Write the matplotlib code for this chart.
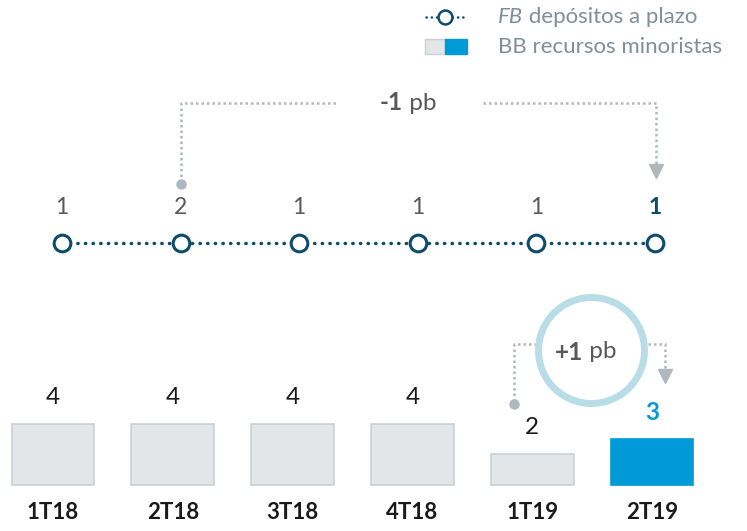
import numpy as np
import matplotlib.pyplot as plt
from matplotlib.patches import Rectangle, Circle

plt.rcParams['font.family'] = ['Lato', 'DejaVu Sans']

quarters = ['1T18', '2T18', '3T18', '4T18', '1T19', '2T19']
fb_plazo = [1, 2, 1, 1, 1, 1]
bb_minoristas = [4, 4, 4, 4, 2, 3]

LINE_C = '#0d4d6b'
GREY_TXT = '#595959'
BAR_C = '#e2e6e9'
BAR_EDGE = '#c9d1d6'
BLUE = '#009ad9'
ANN = '#aeb8bf'
RING = '#b8dde7'
LEG_TXT = '#7f8f99'

W, H = 747, 531
fig = plt.figure(figsize=(W / 100, H / 100), dpi=100)

# bars
axb = fig.add_axes([0, 0, 1, 1])
axb.set_axis_off()
dx_b, x0_b = 119.8, 53
py = 15.3
axb.set_xlim(-x0_b / dx_b, (W - x0_b) / dx_b)
axb.set_ylim(-46 / py, (H - 46) / py)
xb = np.arange(len(quarters))
cols = [BAR_C] * (len(quarters) - 1) + [BLUE]
edges = [BAR_EDGE] * (len(quarters) - 1) + [BLUE]
axb.bar(xb, bb_minoristas, width=0.69, color=cols, edgecolor=edges, linewidth=1.2)
for i, v in enumerate(bb_minoristas):
    last = i == len(bb_minoristas) - 1
    axb.text(xb[i], v + 1.75, str(v), ha='center', va='center', fontsize=17.5,
             color=BLUE if last else '#1a1a1a', fontweight='bold' if last else 'normal')
    axb.text(xb[i], -1.8, quarters[i], ha='center', va='center', fontsize=16,
             fontweight='bold', color='#1a1a1a')

# line (flat, values shown as labels)
axl = fig.add_axes([0, 0, 1, 1])
axl.set_axis_off()
axl.patch.set_alpha(0)
dx_l, x0_l = 118.6, 62
axl.set_xlim(-x0_l / dx_l, (W - x0_l) / dx_l)
axl.set_ylim(-288, H - 288)
xl = np.arange(len(fb_plazo))
axl.plot(xl, np.zeros(len(xl)), linestyle=(0, (0.1, 2.1)), dash_capstyle='round', lw=2.5,
         color=LINE_C, marker='o', ms=12, mfc='white', mec=LINE_C, mew=2.2)
for i, v in enumerate(fb_plazo):
    last = i == len(fb_plazo) - 1
    axl.text(xl[i], 35, str(v), ha='center', va='center', fontsize=16.5,
             color=LINE_C if last else GREY_TXT, fontweight='bold' if last else 'normal')

# overlay in pixel coordinates for annotations and legend
ax = fig.add_axes([0, 0, 1, 1])
ax.set_axis_off()
ax.patch.set_alpha(0)
ax.set_xlim(0, W)
ax.set_ylim(H, 0)

dot = dict(color=ANN, lw=1.8, linestyle=(0, (1, 1.2)))
# -1 pb
ax.plot([181, 181, 338], [182, 103, 103], **dot)
ax.plot([483, 656, 656], [103, 103, 165], **dot)
ax.plot(181, 184, 'o', color=ANN, ms=6.5)
ax.plot(656, 171, marker='v', color=ANN, ms=10)
t = ax.text(380, 103, '-1', fontsize=17.5, fontweight='bold', color=GREY_TXT, ha='left', va='center')
ax.annotate(' pb', xy=(1, 0.5), xycoords=t, fontsize=17.5, color=GREY_TXT, ha='left', va='center')

# +1 pb
ax.add_patch(Circle((591.5, 350.5), 53, fill=False, ec=RING, lw=5))
ax.plot([514, 514, 535], [401, 344, 344], **dot)
ax.plot([648, 665, 665], [344, 344, 370], **dot)
ax.plot(514, 404, 'o', color=ANN, ms=6.5)
ax.plot(665, 376, marker='v', color=ANN, ms=10)
t = ax.text(555, 352, '+1', fontsize=17.5, fontweight='bold', color=GREY_TXT, ha='left', va='center')
ax.annotate(' pb', xy=(1, 0.5), xycoords=t, fontsize=17.5, color=GREY_TXT, ha='left', va='center')

# legend
ax.plot([426, 467], [17, 17], linestyle=(0, (0.1, 2.0)), dash_capstyle='round', lw=1.8, color=LINE_C)
ax.plot(445, 17, 'o', ms=10, mfc='white', mec=LINE_C, mew=1.8)
t = ax.text(498, 17, 'FB', fontsize=16, style='italic', color=LEG_TXT, va='center', ha='left')
ax.annotate(' depósitos a plazo', xy=(1, 0.5), xycoords=t, fontsize=16, color=LEG_TXT,
            va='center', ha='left')
ax.add_patch(Rectangle((425, 39), 20, 15, fc=BAR_C, ec=BAR_EDGE, lw=1))
ax.add_patch(Rectangle((445, 39), 22, 15, fc=BLUE, ec=BLUE, lw=1))
ax.text(498, 47, 'BB recursos minoristas', fontsize=16, color=LEG_TXT, va='center', ha='left')

fig.savefig('out.png', dpi=100)
